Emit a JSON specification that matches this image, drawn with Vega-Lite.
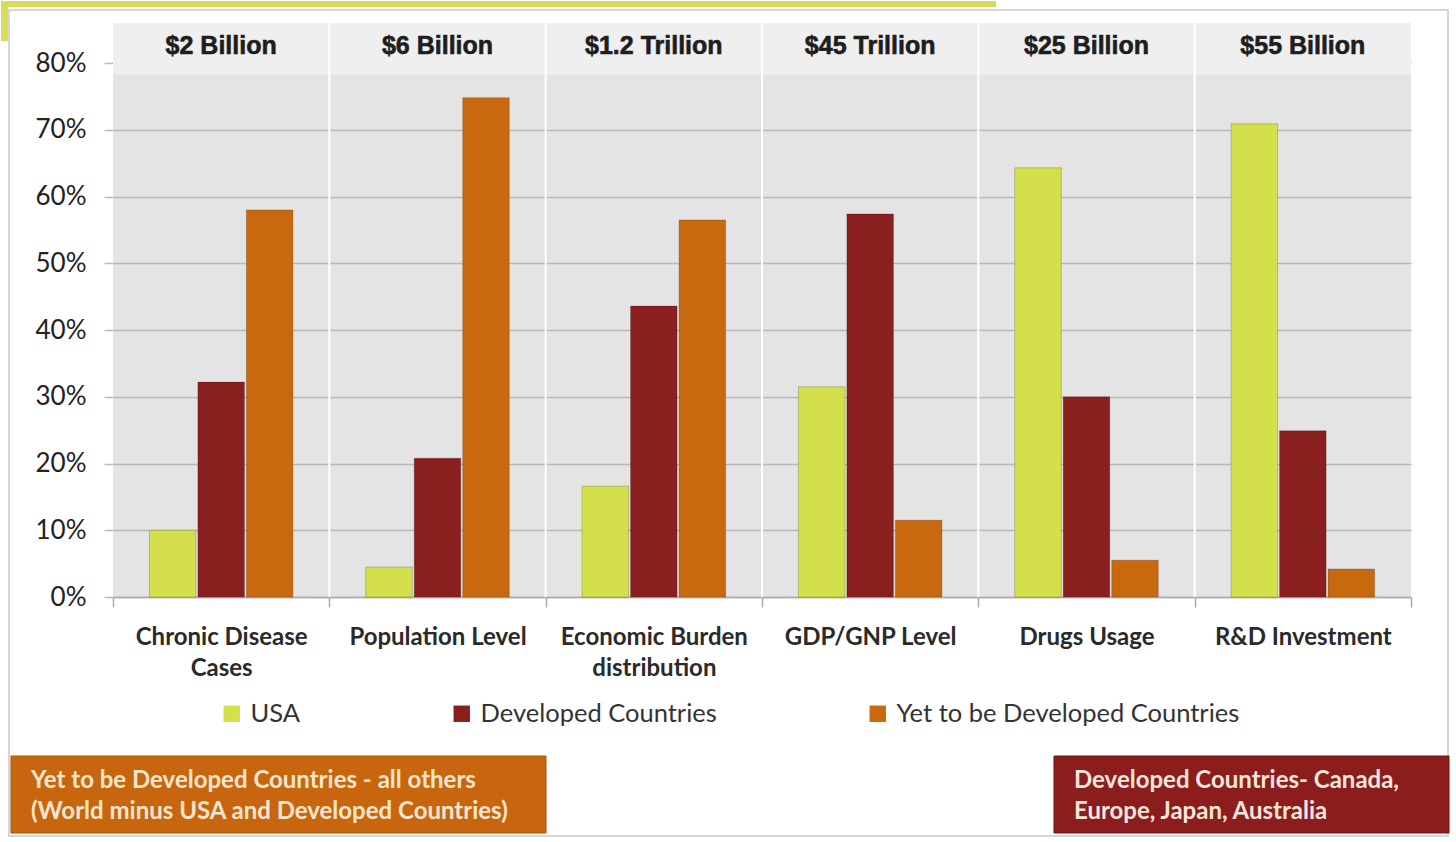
{
  "$schema": "https://vega.github.io/schema/vega-lite/v6.json",
  "background": "white",
  "padding": 0,
  "width": 1298,
  "height": 574,
  "view": {"fill": "#e4e4e4", "stroke": null},
  "config": {"font": "Lato"},
  "datasets": {
    "bars": [
      {"category": "Chronic Disease Cases", "series": "USA", "value": 0.100},
      {"category": "Chronic Disease Cases", "series": "Developed Countries", "value": 0.322},
      {"category": "Chronic Disease Cases", "series": "Yet to  be Developed Countries", "value": 0.580},
      {"category": "Population Level", "series": "USA", "value": 0.045},
      {"category": "Population Level", "series": "Developed Countries", "value": 0.208},
      {"category": "Population Level", "series": "Yet to  be Developed Countries", "value": 0.748},
      {"category": "Economic Burden distribution", "series": "USA", "value": 0.166},
      {"category": "Economic Burden distribution", "series": "Developed Countries", "value": 0.436},
      {"category": "Economic Burden distribution", "series": "Yet to  be Developed Countries", "value": 0.565},
      {"category": "GDP/GNP Level", "series": "USA", "value": 0.315},
      {"category": "GDP/GNP Level", "series": "Developed Countries", "value": 0.574},
      {"category": "GDP/GNP Level", "series": "Yet to  be Developed Countries", "value": 0.115},
      {"category": "Drugs Usage", "series": "USA", "value": 0.643},
      {"category": "Drugs Usage", "series": "Developed Countries", "value": 0.300},
      {"category": "Drugs Usage", "series": "Yet to  be Developed Countries", "value": 0.055},
      {"category": "R&D Investment", "series": "USA", "value": 0.709},
      {"category": "R&D Investment", "series": "Developed Countries", "value": 0.249},
      {"category": "R&D Investment", "series": "Yet to  be Developed Countries", "value": 0.042}
    ],
    "headers": [
      {"category": "Chronic Disease Cases", "label": "$2 Billion"},
      {"category": "Population Level", "label": "$6 Billion"},
      {"category": "Economic Burden distribution", "label": "$1.2 Trillion"},
      {"category": "GDP/GNP Level", "label": "$45 Trillion"},
      {"category": "Drugs Usage", "label": "$25 Billion"},
      {"category": "R&D Investment", "label": "$55 Billion"}
    ],
    "one": [{}]
  },
  "resolve": {"scale": {"x": "independent", "y": "independent"}},
  "layer": [
    {
      "data": {"name": "one"},
      "mark": {"type": "rect", "fill": "#d8dc58"},
      "encoding": {
        "x": {"datum": -0.08629, "type": "quantitative", "scale": {"domain": [0, 1]}, "axis": null},
        "x2": {"datum": 0.6803},
        "y": {"datum": 0.89297, "type": "quantitative", "scale": {"domain": [0, 0.86]}, "axis": null},
        "y2": {"datum": 0.88398}
      }
    },
    {
      "data": {"name": "one"},
      "mark": {"type": "rect", "fill": "#d8dc58"},
      "encoding": {
        "x": {"datum": -0.08629, "type": "quantitative", "scale": {"domain": [0, 1]}, "axis": null},
        "x2": {"datum": -0.08089},
        "y": {"datum": 0.89297, "type": "quantitative", "scale": {"domain": [0, 0.86]}, "axis": null},
        "y2": {"datum": 0.83305}
      }
    },
    {
      "data": {"name": "one"},
      "mark": {"type": "rect", "fill": null, "fillOpacity": 0, "stroke": "#c9c9c9", "strokeWidth": 1.5},
      "encoding": {
        "x": {"datum": -0.08012, "type": "quantitative", "scale": {"domain": [0, 1]}, "axis": null},
        "x2": {"datum": 1.02851},
        "y": {"datum": 0.87948, "type": "quantitative", "scale": {"domain": [0, 0.86]}, "axis": null},
        "y2": {"datum": -0.35809}
      }
    },
    {
      "encoding": {
        "x": {
          "field": "category", "type": "nominal", "sort": null, "title": null,
          "scale": {"domain": ["Chronic Disease Cases", "Population Level", "Economic Burden distribution", "GDP/GNP Level", "Drugs Usage", "R&D Investment"], "paddingInner": 0, "paddingOuter": 0},
          "axis": {
            "tickBand": "extent", "grid": false, "domain": true, "domainColor": "#aaaaaa", "domainWidth": 1.5,
            "ticks": true, "tickColor": "#aaaaaa", "tickSize": 10, "tickWidth": 1.5,
            "labelAngle": 0, "labelFont": "Lato", "labelFontWeight": "bold", "labelFontSize": 24, "labelColor": "#2a2a2a",
            "labelPadding": 18, "labelLineHeight": 31, "labelLimit": 300,
            "labelExpr": "datum.value == 'Chronic Disease Cases' ? ['Chronic Disease', 'Cases'] : datum.value == 'Economic Burden distribution' ? ['Economic Burden', 'distribution'] : datum.value"
          }
        }
      },
      "layer": [
        {
          "data": {"name": "one"},
          "mark": {"type": "rect", "fill": "#efefef"},
          "encoding": {
            "x": null,
            "y": {"datum": 0.783, "type": "quantitative"},
            "y2": {"datum": 0.86}
          }
        },
        {
          "data": {"name": "headers"},
          "transform": [{"filter": "datum.category !== 'Chronic Disease Cases'"}],
          "mark": {"type": "rule", "color": "white", "strokeWidth": 2},
          "encoding": {
            "x": {"field": "category", "type": "nominal", "bandPosition": 0}
          }
        },
        {
          "data": {"name": "bars"},
          "mark": {"type": "bar", "stroke": "#00000030", "strokeWidth": 1},
          "encoding": {
            "xOffset": {
              "field": "series", "type": "nominal",
              "sort": ["USA", "Developed Countries", "Yet to  be Developed Countries"],
              "scale": {"paddingOuter": 0.75, "paddingInner": 0.04}
            },
            "y": {
              "field": "value", "type": "quantitative", "title": null,
              "scale": {"domain": [0, 0.86], "nice": false, "zero": true},
              "axis": {
                "values": [0, 0.1, 0.2, 0.3, 0.4, 0.5, 0.6, 0.7, 0.8], "format": ".0%",
                "grid": true, "gridColor": "#b9b9b9", "gridWidth": 1.5,
                "domain": false, "ticks": true, "tickColor": "#b9b9b9", "tickSize": 9, "tickWidth": 1.5,
                "labelFont": "Lato", "labelFontSize": 26, "labelColor": "#222222", "labelPadding": 18
              }
            },
            "color": {
              "field": "series", "type": "nominal", "title": null,
              "scale": {"domain": ["USA", "Developed Countries", "Yet to  be Developed Countries"], "range": ["#d4e04b", "#8a1f1f", "#c9690f"]},
              "legend": {
                "orient": "none", "direction": "horizontal", "legendX": 106, "legendY": 678,
                "symbolType": "square", "symbolSize": 270, "symbolStrokeWidth": 0,
                "labelFont": "Lato", "labelFontSize": 25.5, "labelColor": "#333333", "labelOffset": 6,
                "columnPadding": 148, "gridAlign": "none", "labelLimit": 400
              }
            }
          }
        },
        {
          "data": {"name": "headers"},
          "mark": {"type": "text", "font": "Liberation Sans", "fontWeight": "bold", "fontSize": 25, "color": "#1e1e1e", "stroke": "#1e1e1e", "strokeWidth": 0.6, "baseline": "middle"},
          "encoding": {
            "y": {"datum": 0.825, "type": "quantitative"},
            "text": {"field": "label"}
          }
        }
      ]
    },
    {
      "data": {"name": "one"},
      "mark": {"type": "rect", "fill": "#c8660f", "stroke": "#a85409", "strokeWidth": 1},
      "encoding": {
        "x": {"datum": -0.07858, "type": "quantitative", "scale": {"domain": [0, 1]}, "axis": null},
        "x2": {"datum": 0.33359},
        "y": {"datum": -0.23823, "type": "quantitative", "scale": {"domain": [0, 0.86]}, "axis": null},
        "y2": {"datum": -0.35359}
      }
    },
    {
      "data": {"name": "one"},
      "mark": {"type": "rect", "fill": "#8b1d1d", "stroke": "#6e1414", "strokeWidth": 1},
      "encoding": {
        "x": {"datum": 0.72496, "type": "quantitative", "scale": {"domain": [0, 1]}, "axis": null},
        "x2": {"datum": 1.02928},
        "y": {"datum": -0.23823, "type": "quantitative", "scale": {"domain": [0, 0.86]}, "axis": null},
        "y2": {"datum": -0.35359}
      }
    },
    {
      "data": {"name": "one"},
      "mark": {"type": "text", "align": "left", "baseline": "middle", "font": "Lato", "fontWeight": "bold", "fontSize": 24, "lineHeight": 31, "color": "#f7e6cf"},
      "encoding": {
        "x": {"datum": -0.06317, "type": "quantitative", "scale": {"domain": [0, 1]}, "axis": null},
        "y": {"datum": -0.27568, "type": "quantitative", "scale": {"domain": [0, 0.86]}, "axis": null},
        "text": {"value": ["Yet to be Developed Countries - all others", "(World minus USA and Developed Countries)"]}
      }
    },
    {
      "data": {"name": "one"},
      "mark": {"type": "text", "align": "left", "baseline": "middle", "font": "Lato", "fontWeight": "bold", "fontSize": 24, "lineHeight": 31, "color": "#f7e6dc"},
      "encoding": {
        "x": {"datum": 0.74037, "type": "quantitative", "scale": {"domain": [0, 1]}, "axis": null},
        "y": {"datum": -0.27568, "type": "quantitative", "scale": {"domain": [0, 0.86]}, "axis": null},
        "text": {"value": ["Developed Countries- Canada,", "Europe, Japan, Australia"]}
      }
    }
  ]
}
